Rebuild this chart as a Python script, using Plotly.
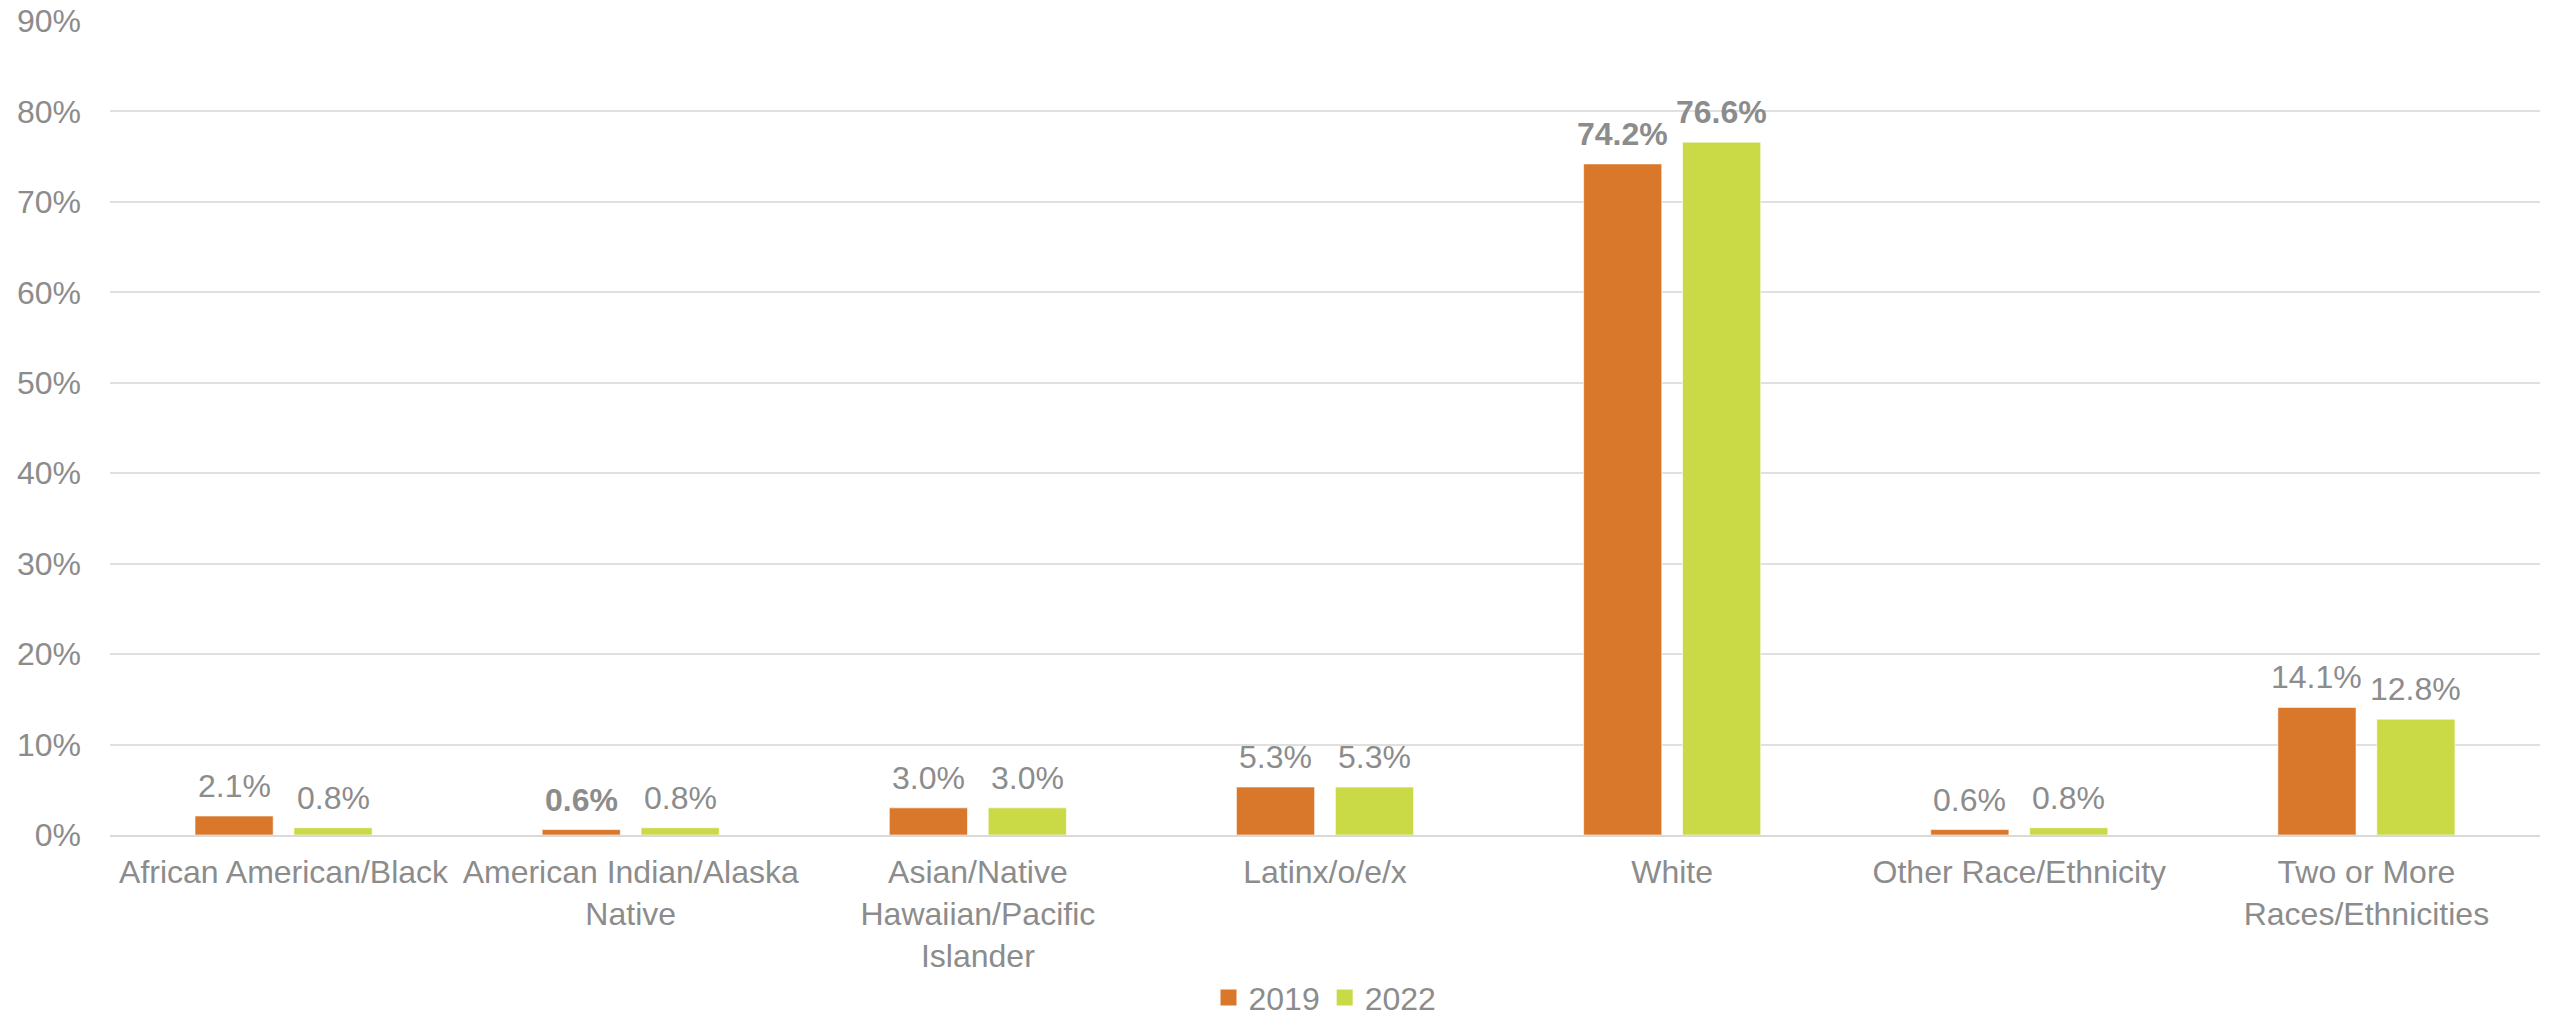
import plotly.graph_objects as go

categories = [
    "African American/Black",
    "American Indian/Alaska<br>Native",
    "Asian/Native<br>Hawaiian/Pacific<br>Islander",
    "Latinx/o/e/x",
    "White",
    "Other Race/Ethnicity",
    "Two or More<br>Races/Ethnicities",
]
series_names = ["2019", "2022"]
values_2019 = [2.1, 0.6, 3.0, 5.3, 74.2, 0.6, 14.1]
values_2022 = [0.8, 0.8, 3.0, 5.3, 76.6, 0.8, 12.8]
bold_2019 = [False, True, False, False, True, False, False]
bold_2022 = [False, False, False, False, True, False, False]
y_ticks = [0, 10, 20, 30, 40, 50, 60, 70, 80, 90]
y_tick_labels = [f"{t}%" for t in y_ticks]

colors = ["#D9772B", "#CAD946"]
font_family = "Liberation Sans, Arial, sans-serif"
gray = "#8c8c8c"
fs = 32
bar_slot_px = 99  # distance between the two bar centres within a group


def label(v, b):
    s = f"{v:.1f}%"
    return f"<b>{s}</b>" if b else s


fig = go.Figure()
for name, vals, col in [
    (series_names[0], values_2019, colors[0]),
    (series_names[1], values_2022, colors[1]),
]:
    fig.add_trace(go.Bar(
        x=categories, y=vals, name=name, showlegend=False,
        marker=dict(color=col, line=dict(color="rgba(255,255,255,0.6)", width=1)),
    ))
# legend entries with larger square swatches
for name, col in zip(series_names, colors):
    fig.add_trace(go.Scatter(
        x=[None], y=[None], mode="markers", name=name,
        marker=dict(symbol="square", size=17, color=col),
    ))

# data labels
for j, (vals, bolds) in enumerate([(values_2019, bold_2019), (values_2022, bold_2022)]):
    for cat, v, b in zip(categories, vals, bolds):
        fig.add_annotation(
            x=cat, y=v, xref="x", yref="y", text=label(v, b), showarrow=False,
            xanchor="center", yanchor="bottom",
            xshift=(j - 0.5) * bar_slot_px, yshift=10,
            font=dict(size=fs, color=gray, family=font_family),
        )

fig.update_layout(
    barmode="group", bargap=0.43, bargroupgap=0.21,
    width=2552, height=1021,
    margin=dict(l=110, r=12, t=21, b=186, autoexpand=False),
    paper_bgcolor="white", plot_bgcolor="white",
    font=dict(family=font_family, size=fs, color=gray),
    legend=dict(orientation="h", x=0.5, xanchor="center",
                yref="paper", y=-0.2, yanchor="middle",
                font=dict(size=fs, color=gray), itemwidth=30,
                tracegroupgap=0, traceorder="normal"),
    xaxis=dict(showgrid=False, showline=True, linecolor="#d9d9d9", linewidth=2,
               tickfont=dict(size=fs, color=gray), ticks="", ticklabelstandoff=8),
    yaxis=dict(range=[0, 90], tickmode="array", tickvals=y_ticks, ticktext=y_tick_labels,
               showgrid=True, gridcolor="#e0e0e0", gridwidth=1.5,
               zeroline=False, showline=False,
               tickfont=dict(size=fs, color=gray), ticklabelstandoff=28),
)

fig.write_html("out.html")
